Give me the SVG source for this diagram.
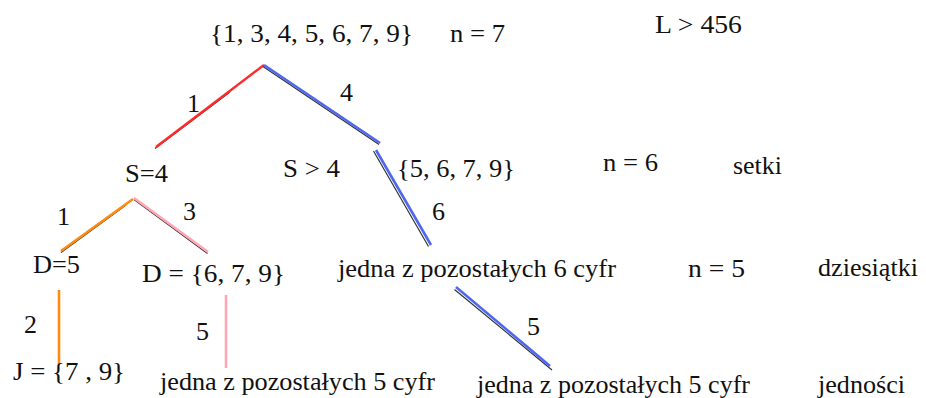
<svg xmlns="http://www.w3.org/2000/svg" width="926" height="398" viewBox="0 0 926 398" font-family="'Liberation Serif', 'Times New Roman', serif">
<style>
text{font-family:"Liberation Serif","Times New Roman",serif;font-size:26px;fill:#111}
.sh{stroke:#333;stroke-width:1.2;fill:none}
.red{stroke:#ff2a2a;stroke-width:2.4;fill:none}
.blue{stroke:#5068f0;stroke-width:2.6;fill:none}
.orange{stroke:#ff8a10;stroke-width:2.6;fill:none}
.pink{stroke:#ffa6b4;stroke-width:2.6;fill:none}
</style>
<rect width="926" height="398" fill="#fff"/>
<g id="connectors">
  <line class="sh" x1="230" y1="92" x2="155" y2="148.5"/>
  <line class="red" x1="264" y1="65" x2="156" y2="147"/>
  <line class="sh" x1="263" y1="66.5" x2="379" y2="144.5"/>
  <line class="blue" x1="264" y1="65" x2="380" y2="143"/>
  <line class="sh" x1="373.5" y1="151" x2="428.5" y2="246.5"/>
  <line class="blue" x1="376" y1="150" x2="431" y2="245"/>
  <line class="sh" x1="454.5" y1="289.5" x2="552" y2="370"/>
  <line class="blue" x1="456" y1="287" x2="550" y2="366"/>
  <line class="sh" x1="126" y1="205" x2="61" y2="252.5"/>
  <line class="orange" x1="133" y1="199" x2="61" y2="251"/>
  <line class="sh" x1="134" y1="199.5" x2="207.5" y2="253.5"/>
  <line class="pink" x1="134" y1="198" x2="208" y2="252"/>
  <line class="orange" x1="59" y1="290" x2="59" y2="364"/>
  <line class="pink" x1="226" y1="295" x2="226" y2="368"/>
</g>
<g id="n-root"><text x="210" y="42" textLength="203" lengthAdjust="spacingAndGlyphs">{1, 3, 4, 5, 6, 7, 9}</text></g>
<g id="n-n7"><text x="450" y="42" textLength="55" lengthAdjust="spacingAndGlyphs">n = 7</text></g>
<g id="n-L"><text x="655" y="33" textLength="87" lengthAdjust="spacingAndGlyphs">L &gt; 456</text></g>
<g id="lbl-1a"><text x="187" y="112" textLength="13" lengthAdjust="spacingAndGlyphs">1</text></g>
<g id="lbl-4"><text x="340" y="101" textLength="13" lengthAdjust="spacingAndGlyphs">4</text></g>
<g id="n-S4"><text x="125" y="182" textLength="43" lengthAdjust="spacingAndGlyphs">S=4</text></g>
<g id="n-Sgt4"><text x="283" y="177" textLength="57" lengthAdjust="spacingAndGlyphs">S &gt; 4</text></g>
<g id="n-set5679"><text x="397" y="177" textLength="118" lengthAdjust="spacingAndGlyphs">{5, 6, 7, 9}</text></g>
<g id="n-n6"><text x="603" y="171" textLength="55" lengthAdjust="spacingAndGlyphs">n = 6</text></g>
<g id="n-setki"><text x="733" y="174" textLength="49" lengthAdjust="spacingAndGlyphs">setki</text></g>
<g id="lbl-1b"><text x="57" y="225" textLength="13" lengthAdjust="spacingAndGlyphs">1</text></g>
<g id="lbl-3"><text x="183" y="220" textLength="13" lengthAdjust="spacingAndGlyphs">3</text></g>
<g id="lbl-6"><text x="432" y="220" textLength="13" lengthAdjust="spacingAndGlyphs">6</text></g>
<g id="n-D5"><text x="33" y="273" textLength="47" lengthAdjust="spacingAndGlyphs">D=5</text></g>
<g id="n-D679"><text x="142" y="282" textLength="143" lengthAdjust="spacingAndGlyphs">D = {6, 7, 9}</text></g>
<g id="n-jedna6"><text x="338" y="277" textLength="278" lengthAdjust="spacingAndGlyphs">jedna z pozostałych 6 cyfr</text></g>
<g id="n-n5"><text x="688" y="277" textLength="57" lengthAdjust="spacingAndGlyphs">n = 5</text></g>
<g id="n-dziesiatki"><text x="818" y="276" textLength="100" lengthAdjust="spacingAndGlyphs">dziesiątki</text></g>
<g id="lbl-2"><text x="24" y="333" textLength="13" lengthAdjust="spacingAndGlyphs">2</text></g>
<g id="lbl-5a"><text x="196" y="340" textLength="13" lengthAdjust="spacingAndGlyphs">5</text></g>
<g id="lbl-5b"><text x="527" y="335" textLength="13" lengthAdjust="spacingAndGlyphs">5</text></g>
<g id="n-J79"><text x="13" y="380" textLength="112" lengthAdjust="spacingAndGlyphs">J = {7 , 9}</text></g>
<g id="n-jedna5a"><text x="160" y="390" textLength="275" lengthAdjust="spacingAndGlyphs">jedna z pozostałych 5 cyfr</text></g>
<g id="n-jedna5b"><text x="477" y="393" textLength="273" lengthAdjust="spacingAndGlyphs">jedna z pozostałych 5 cyfr</text></g>
<g id="n-jednosci"><text x="818" y="393" textLength="87" lengthAdjust="spacingAndGlyphs">jedności</text></g>
</svg>
